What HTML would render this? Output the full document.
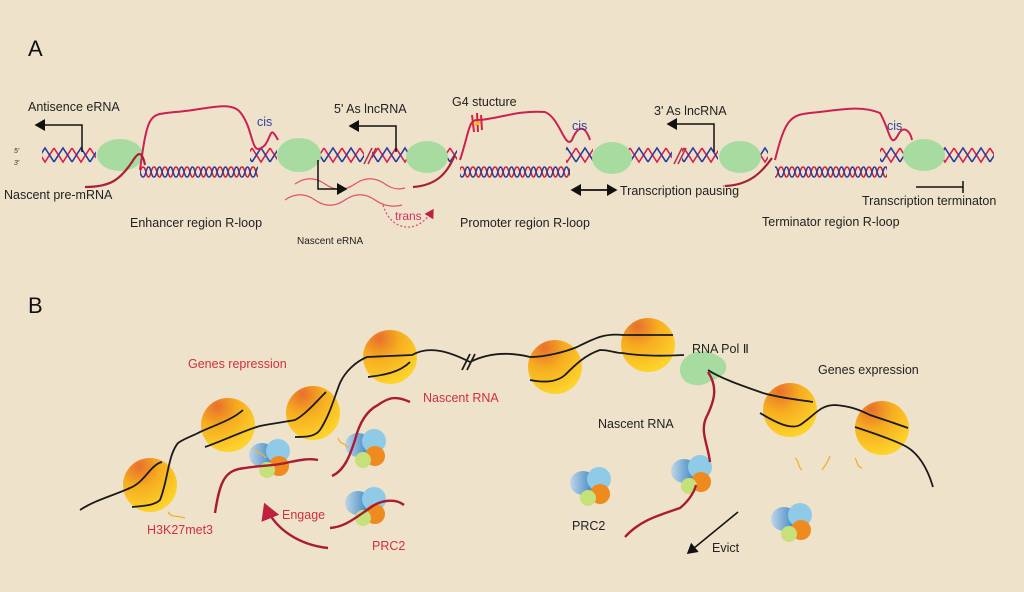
<!DOCTYPE html>
<html><head><meta charset="utf-8"><style>
html,body{margin:0;padding:0;background:#efe2cb;}
svg{display:block}
text{font-family:"Liberation Sans",sans-serif;}
</style></head><body>
<svg width="1024" height="592" viewBox="0 0 1024 592" xmlns="http://www.w3.org/2000/svg">
<defs>
<pattern id="hx" width="18" height="18" patternUnits="userSpaceOnUse" y="146">
<path d="M0,2 L9,16 L18,2" fill="none" stroke="#d8204a" stroke-width="1.6"/>
<path d="M0,16 L9,2 L18,16" fill="none" stroke="#2a3a9a" stroke-width="1.6"/>
</pattern>
<pattern id="sh" width="11" height="12" patternUnits="userSpaceOnUse" y="166">
<path d="M0,1 C3,1 3,11 5.5,11 C8,11 8,1 11,1" fill="none" stroke="#c8203a" stroke-width="1.5"/>
<path d="M0,11 C3,11 3,1 5.5,1 C8,1 8,11 11,11" fill="none" stroke="#2a3a9a" stroke-width="1.5"/>
</pattern>
<radialGradient id="nuc" cx="0.3" cy="0.15" r="0.85">
<stop offset="0" stop-color="#e8702c"/><stop offset="0.45" stop-color="#f6ad20"/><stop offset="1" stop-color="#fdd22a"/>
</radialGradient>
<linearGradient id="bl" x1="0" y1="0" x2="1" y2="0"><stop offset="0" stop-color="#c0d6e8"/><stop offset="1" stop-color="#2f7fc0"/></linearGradient>
<marker id="ar" markerWidth="8" markerHeight="8" refX="6" refY="4" orient="auto"><path d="M0,0 L7,4 L0,8 z" fill="#111"/></marker>
<marker id="arr" markerWidth="8" markerHeight="8" refX="6" refY="4" orient="auto"><path d="M0,0 L7,4 L0,8 z" fill="#c02040"/></marker>
<g id="prc">
<ellipse cx="-10" cy="-2" rx="13" ry="12" fill="url(#bl)"/>
<circle cx="6" cy="-6" r="12" fill="#8fcbe6"/>
<circle cx="7" cy="9" r="10" fill="#ef8a1e"/>
<circle cx="-5" cy="13" r="8" fill="#c6e07a"/>
</g>
<g id="nu"><circle r="27" fill="url(#nuc)"/></g>
</defs>

<text x="28" y="56" font-size="22" fill="#111">A</text>
<text x="28" y="313" font-size="22" fill="#111">B</text>

<!-- A: helix segments -->
<g>
<rect x="42" y="146" width="54" height="18" fill="url(#hx)"/>
<rect x="250" y="146" width="27" height="18" fill="url(#hx)"/>
<rect x="310" y="146" width="54" height="18" fill="url(#hx)"/>
<rect x="372" y="146" width="36" height="18" fill="url(#hx)"/>
<rect x="445" y="146" width="12" height="18" fill="url(#hx)"/>
<rect x="566" y="146" width="27" height="18" fill="url(#hx)"/>
<rect x="627" y="146" width="45" height="18" fill="url(#hx)"/>
<rect x="682" y="146" width="36" height="18" fill="url(#hx)"/>
<rect x="756" y="146" width="12" height="18" fill="url(#hx)"/>
<rect x="880" y="146" width="27" height="18" fill="url(#hx)"/>
<rect x="940" y="146" width="54" height="18" fill="url(#hx)"/>
<path d="M364,164 L372,148 M368,164 L376,148 M674,164 L682,148 M678,164 L686,148" stroke="#b03050" stroke-width="1.5"/>
<rect x="140" y="166" width="118" height="12" fill="url(#sh)"/>
<rect x="460" y="166" width="110" height="12" fill="url(#sh)"/>
<rect x="775" y="166" width="112" height="12" fill="url(#sh)"/>
</g>
<!-- green polymerases -->
<g fill="#a7dba0">
<ellipse cx="120" cy="155" rx="23" ry="16"/>
<ellipse cx="299" cy="155" rx="22" ry="17"/>
<ellipse cx="427" cy="157" rx="21" ry="16"/>
<ellipse cx="612" cy="158" rx="20" ry="16"/>
<ellipse cx="740" cy="157" rx="21" ry="16"/>
<ellipse cx="924" cy="155" rx="21" ry="16"/>
</g>
<!-- RNA loops -->
<g fill="none" stroke="#cc2050" stroke-width="2">
<path d="M140,170 C148,110 150,115 175,112 C205,110 230,100 240,112 C255,130 250,160 265,145 C272,135 270,125 278,140"/>
<path d="M460,160 C470,130 468,118 480,120 C500,118 520,110 545,112 C560,118 565,150 572,140 C578,125 585,125 590,140"/>
<path d="M775,160 C785,120 790,115 810,113 C840,110 860,105 880,113 C890,130 890,150 898,135 C903,125 910,130 912,140"/>
</g>
<g fill="none" stroke="#a82038" stroke-width="2.2">
<path d="M85,187 C110,187 120,180 132,162 C138,152 142,150 145,165"/>
<path d="M413,187 C440,185 448,170 455,155"/>
<path d="M725,186 C750,185 762,172 772,158"/>
</g>
<path d="M472,115 L474,132 M477,113 L478,132 M481,115 L482,130" stroke="#d82040" stroke-width="2"/>
<path d="M474,125 L480,122" stroke="#f0c020" stroke-width="3"/>
<!-- eRNA waves -->
<g fill="none" stroke="#e05070" stroke-width="1.3">
<path d="M295,184 C305,177 315,177 325,184 C335,191 345,191 355,184 C365,177 375,177 385,184 C392,189 398,190 405,188"/>
<path d="M285,200 C295,193 305,193 315,200 C325,207 335,207 345,200 C355,193 365,193 375,200 C385,207 395,207 402,205"/>
<path d="M383,205 C388,222 400,228 410,227 C420,226 428,218 433,210" stroke-dasharray="2,2" marker-end="url(#arr)"/>
</g>
<!-- arrows -->
<g fill="none" stroke="#111" stroke-width="1.5">
<path d="M82,152 L82,125 L36,125" marker-end="url(#ar)"/>
<path d="M396,152 L396,126 L350,126" marker-end="url(#ar)"/>
<path d="M714,152 L714,124 L668,124" marker-end="url(#ar)"/>
<path d="M318,160 L318,189 L346,189" marker-end="url(#ar)"/>
<path d="M572,190 L616,190" marker-end="url(#ar)"/>
<path d="M616,190 L572,190" marker-end="url(#ar)"/>
<path d="M916,187 L963,187 M963,181 L963,193"/>
</g>
<g font-size="12.5" fill="#222">
<text x="28" y="111">Antisence eRNA</text>
<text x="334" y="113">5' As lncRNA</text>
<text x="452" y="106">G4 stucture</text>
<text x="654" y="115">3' As lncRNA</text>
<text x="4" y="199">Nascent pre-mRNA</text>
<text x="130" y="227">Enhancer region R-loop</text>
<text x="460" y="227">Promoter region R-loop</text>
<text x="620" y="195">Transcription pausing</text>
<text x="762" y="226">Terminator region R-loop</text>
<text x="862" y="205">Transcription terminaton</text>
<text x="297" y="244" font-size="10">Nascent eRNA</text>
</g>
<g font-size="12.5" fill="#3040a0">
<text x="257" y="126">cis</text>
<text x="572" y="130">cis</text>
<text x="887" y="130">cis</text>
</g>
<text x="395" y="220" font-size="12" fill="#d83060">trans</text>
<text x="14" y="153" font-size="7" font-style="italic" fill="#333">5'</text>
<text x="14" y="165" font-size="7" font-style="italic" fill="#333">3'</text>

<!-- B -->
<use href="#nu" x="150" y="485"/>
<use href="#nu" x="228" y="425"/>
<use href="#nu" x="313" y="413"/>
<use href="#nu" x="390" y="357"/>
<use href="#nu" x="555" y="367"/>
<use href="#nu" x="648" y="345"/>
<use href="#nu" x="790" y="410"/>
<use href="#nu" x="882" y="428"/>
<path d="M718,356 C728,360 732,375 712,380 C700,390 680,385 680,370 C680,355 700,345 718,356 Z" fill="#a7dba0"/>
<g fill="none" stroke="#1a1a1a" stroke-width="1.8">
<path d="M80,510 C95,500 115,495 130,488 C145,482 150,465 162,462"/>
<path d="M132,507 C145,506 155,505 160,500 C168,480 168,455 178,443 C185,438 195,435 200,432 C215,425 232,420 243,410"/>
<path d="M205,447 C225,440 245,430 260,426 C275,423 285,422 295,420 C305,415 318,400 326,392"/>
<path d="M295,437 C305,437 315,437 320,430 C330,415 335,395 340,383 C345,372 355,362 367,357 L412,355 C430,345 450,352 470,362 C490,352 510,352 530,357 C545,357 565,352 577,347 C595,338 605,333 623,335 L673,335"/>
<path d="M368,377 C385,375 400,372 410,362"/>
<path d="M530,380 C545,383 557,382 565,375 C575,365 585,355 600,350 C610,350 615,353 622,353 C640,356 665,356 684,355"/>
<path d="M708,370 C720,378 740,385 763,393 C780,398 800,400 813,402"/>
<path d="M760,413 C775,422 790,430 800,425 C815,415 820,405 835,405 C850,406 860,410 870,415 C885,420 900,425 908,428"/>
<path d="M855,427 C870,432 895,440 907,447 C920,455 928,470 933,487"/>
</g>
<path d="M462,370 L470,354 M467,370 L475,354" stroke="#1a1a1a" stroke-width="1.8"/>
<!-- PRC2 -->
<use href="#prc" x="272" y="457"/>
<use href="#prc" x="368" y="447"/>
<use href="#prc" x="368" y="505"/>
<use href="#prc" x="593" y="485"/>
<use href="#prc" x="694" y="473"/>
<use href="#prc" x="794" y="521"/>
<!-- red nascent RNAs -->
<g fill="none" stroke="#a81c34" stroke-width="2.4">
<path d="M215,513 C220,480 225,470 245,468 C265,465 275,466 290,462 C300,460 310,458 318,460"/>
<path d="M332,476 C345,470 350,455 355,440 C360,420 368,410 378,405 C388,398 395,395 410,402"/>
<path d="M330,528 C345,527 355,518 370,508 C380,500 395,498 404,505"/>
<path d="M708,372 C718,387 715,400 706,418 C700,432 708,445 710,462"/>
<path d="M625,537 C640,520 660,515 680,508 C690,500 695,490 696,485"/>
<path d="M328,548 C300,545 275,530 265,505" marker-end="url(#arr)"/>
</g>
<!-- squiggles -->
<g fill="none" stroke="#f0b030" stroke-width="1.3">
<path d="M168,512 C172,518 175,515 185,518"/>
<path d="M255,448 C258,455 262,452 266,458"/>
<path d="M338,438 C340,445 345,442 348,448"/>
<path d="M795,458 C800,462 797,466 802,470"/>
<path d="M830,456 C828,462 825,466 822,470"/>
<path d="M855,458 C858,462 856,466 862,468"/>
</g>
<path d="M738,512 L688,553" stroke="#111" stroke-width="1.5" marker-end="url(#ar)"/>
<g font-size="12.5" fill="#d03040">
<text x="188" y="368">Genes repression</text>
<text x="423" y="402">Nascent RNA</text>
<text x="147" y="534">H3K27met3</text>
<text x="282" y="519">Engage</text>
<text x="372" y="550">PRC2</text>
</g>
<g font-size="12.5" fill="#222">
<text x="692" y="353">RNA Pol Ⅱ</text>
<text x="818" y="374">Genes expression</text>
<text x="598" y="428">Nascent RNA</text>
<text x="572" y="530">PRC2</text>
<text x="712" y="552">Evict</text>
</g>
</svg>
</body></html>
